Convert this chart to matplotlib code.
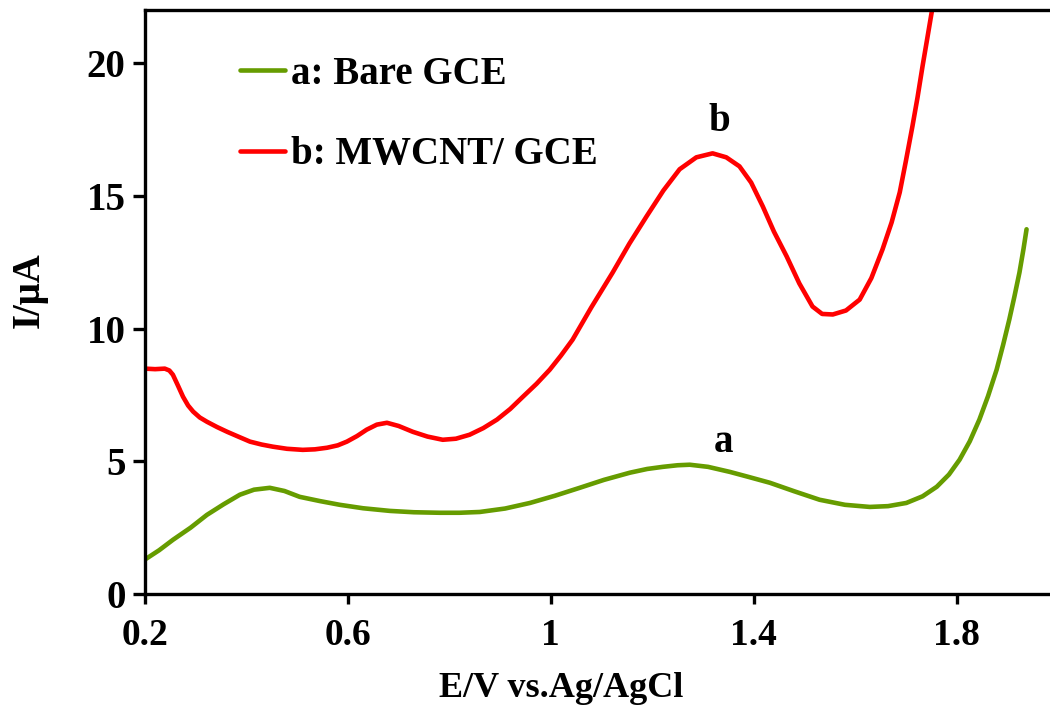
import matplotlib.pyplot as plt
import numpy as np

plt.rcParams['font.family'] = ['Liberation Serif', 'DejaVu Serif']
plt.rcParams['font.weight'] = 'bold'
plt.rcParams['axes.labelweight'] = 'bold'

# curve a: bare GCE
e_a = [0.200, 0.228, 0.255, 0.290, 0.322, 0.355, 0.387, 0.415, 0.446, 0.475,
       0.505, 0.545, 0.584, 0.630, 0.683, 0.730, 0.781, 0.820, 0.860, 0.910,
       0.959, 1.008, 1.057, 1.105, 1.156, 1.190, 1.221, 1.250, 1.274, 1.310,
       1.353, 1.390, 1.432, 1.480, 1.530, 1.580, 1.629, 1.665, 1.701, 1.733,
       1.761, 1.785, 1.806, 1.826, 1.845, 1.862, 1.879, 1.892, 1.904, 1.914,
       1.924, 1.932, 1.938]
i_a = [1.30, 1.65, 2.04, 2.50, 2.98, 3.38, 3.74, 3.93, 4.00, 3.88,
       3.66, 3.50, 3.36, 3.23, 3.13, 3.08, 3.06, 3.06, 3.09, 3.22,
       3.43, 3.70, 4.00, 4.30, 4.57, 4.71, 4.79, 4.85, 4.87, 4.79,
       4.60, 4.41, 4.19, 3.87, 3.55, 3.36, 3.28, 3.31, 3.43, 3.68,
       4.04, 4.50, 5.06, 5.75, 6.57, 7.45, 8.45, 9.40, 10.34, 11.20,
       12.11, 13.00, 13.74]

# curve b: MWCNT/GCE
e_b = [0.200, 0.220, 0.239, 0.248, 0.255, 0.265, 0.275, 0.285, 0.295, 0.308,
       0.322, 0.342, 0.362, 0.385, 0.407, 0.430, 0.452, 0.480, 0.511, 0.535,
       0.559, 0.580, 0.598, 0.618, 0.637, 0.657, 0.677, 0.700, 0.728, 0.757,
       0.787, 0.813, 0.840, 0.867, 0.894, 0.920, 0.945, 0.972, 0.998, 1.020,
       1.043, 1.080, 1.122, 1.155, 1.189, 1.222, 1.254, 1.287, 1.319, 1.346,
       1.372, 1.395, 1.418, 1.440, 1.465, 1.490, 1.516, 1.535, 1.556, 1.582,
       1.609, 1.632, 1.654, 1.672, 1.688, 1.700, 1.713, 1.723, 1.733, 1.742,
       1.751, 1.755]
i_b = [8.49, 8.47, 8.49, 8.42, 8.26, 7.85, 7.43, 7.10, 6.87, 6.65,
       6.49, 6.29, 6.11, 5.92, 5.74, 5.63, 5.55, 5.47, 5.43, 5.45,
       5.51, 5.60, 5.74, 5.95, 6.19, 6.38, 6.45, 6.33, 6.11, 5.93,
       5.81, 5.85, 6.00, 6.25, 6.57, 6.97, 7.43, 7.92, 8.45, 8.98,
       9.58, 10.80, 12.11, 13.20, 14.23, 15.20, 16.00, 16.45, 16.60, 16.45,
       16.11, 15.50, 14.60, 13.65, 12.72, 11.70, 10.83, 10.55, 10.53, 10.68,
       11.09, 11.90, 12.98, 14.00, 15.13, 16.30, 17.62, 18.70, 19.89, 20.90,
       21.92, 22.40]

xticks = [0.2, 0.6, 1.0, 1.4, 1.8]
xtick_labels = ['0.2', '0.6', '1', '1.4', '1.8']
yticks = [0, 5, 10, 15, 20]

fig = plt.figure(figsize=(10.5, 7.09), dpi=100)
ax = fig.add_axes([145/1050, 115/709, 913/1050, 584/709])

ax.plot(e_a, i_a, color='#669c00', lw=3.3, solid_joinstyle='round',
        solid_capstyle='round', label='a: Bare GCE')
ax.plot(e_b, i_b, color='#ff0000', lw=3.3, solid_joinstyle='round',
        solid_capstyle='round', label='b: MWCNT/ GCE')

ax.set_xlim(0.2, 2.0)
ax.set_ylim(0, 22)
ax.set_xticks(xticks)
ax.set_xticklabels(xtick_labels)
ax.set_yticks(yticks)

for s in ['top', 'bottom', 'left']:
    ax.spines[s].set_linewidth(2.4)
ax.spines['right'].set_visible(False)
ax.tick_params(axis='both', direction='out', width=2.4)
ax.tick_params(axis='y', length=9, pad=5, labelsize=28)
ax.tick_params(axis='x', length=7, pad=10, labelsize=27)

ax.set_xlabel('E/V vs.Ag/AgCl', fontsize=26, fontweight='bold')
ax.set_ylabel('I/μA', fontsize=28, fontweight='bold')
ax.xaxis.set_label_coords(0.456, -0.133)
ax.yaxis.set_label_coords(-0.107, 0.52)

ax.text(1.333, 17.8, 'b', fontsize=28, fontweight='bold', ha='center', va='center')
ax.text(1.341, 5.7, 'a', fontsize=28, fontweight='bold', ha='center', va='center')

ax.legend(loc='upper left', bbox_to_anchor=(0.104, 0.922), frameon=False,
          fontsize=28, handlelength=1.15, handletextpad=0.15, labelspacing=1.13,
          borderpad=0, borderaxespad=0)

fig.savefig('out.png', dpi=100)
